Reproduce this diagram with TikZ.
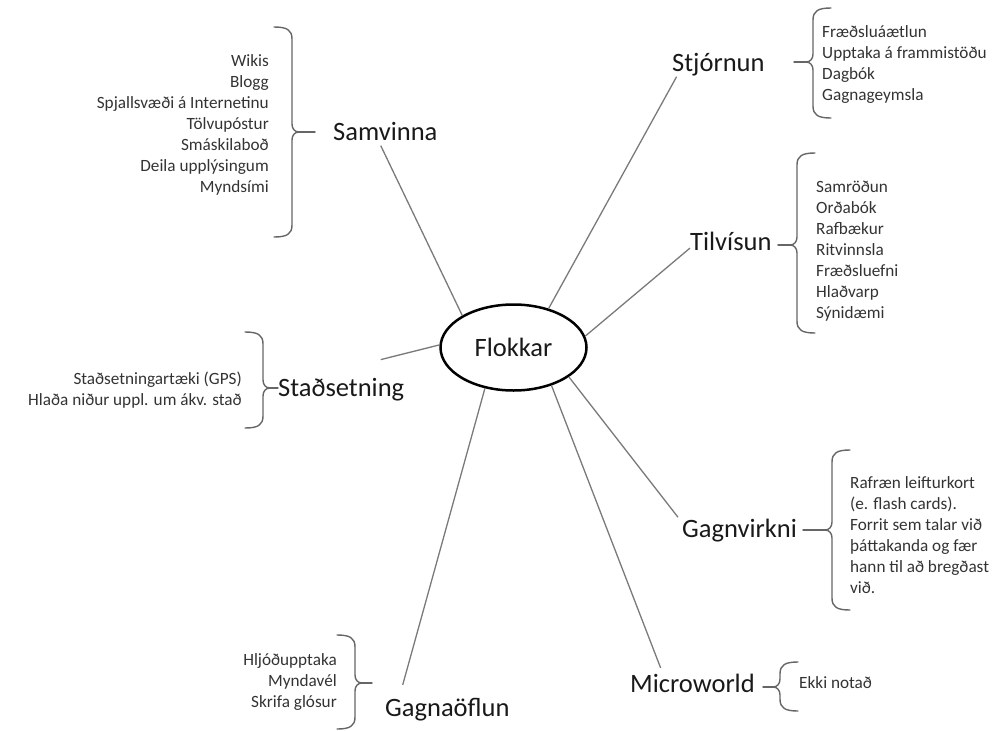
\documentclass[tikz,border=0pt]{standalone}
\usepackage{fontspec}
\setmainfont{Carlito}
\usetikzlibrary{positioning,shapes.geometric}

\definecolor{linegray}{HTML}{7A7A7A}
\definecolor{bracegray}{HTML}{666666}
\definecolor{itemgray}{HTML}{333333}

% curly bracket: bar x, top y, bottom y, tip y, tick end x, side (1 = tip right, -1 = tip left)
\newcommand{\drawcurly}[6]{%
  \draw[curly] ({#1-18*(#6)},#2) .. controls ({#1-5*(#6)},#2) and (#1,{#2+3}) .. (#1,{#2+12})
    -- (#1,{#4-8}) .. controls (#1,{#4-3}) and ({#1+3*(#6)},#4) .. ({#1+7*(#6)},#4)
    .. controls ({#1+3*(#6)},#4) and (#1,{#4+3}) .. (#1,{#4+8})
    -- (#1,{#3-12}) .. controls (#1,{#3-3}) and ({#1-5*(#6)},#3) .. ({#1-18*(#6)},#3);
  \draw[curly] ({#1+7*(#6)},#4) -- (#5,#4);}

\begin{document}
\begin{tikzpicture}[x=1pt, y=-1pt,
  every node/.style={inner sep=0pt},
  hub/.style={draw=black, ellipse, line width=2.5pt, minimum width=146pt, minimum height=86pt, font=\fontsize{26.5}{30}\selectfont, text=black!90},
  topic/.style={anchor=base west, text height=17pt, text depth=5pt, font=\fontsize{26.5}{30}\selectfont, text=black!90},
  items/.style={font=\fontsize{17.2}{21}\selectfont, text=itemgray},
  spoke/.style={draw=linegray, line width=1.3pt},
  curly/.style={draw=bracegray, line width=1.4pt, line cap=round}
]
\useasboundingbox (0,0) rectangle (999,731);

\node[hub] (hub) at (513.5,347.5) {Flokkar};

\node[topic] (samvinna) at (333,140.5) {Samvinna};
\node[topic] (stjornun) at (672,71.5) {Stjórnun};
\node[topic] (tilvisun) at (690,250.5) {Tilvísun};
\node[topic] (stadsetning) at (278,396.5) {Staðsetning};
\node[topic] (gagnvirkni) at (682,537.5) {Gagnvirkni};
\node[topic] (microworld) at (630,692) {Microworld};
\node[topic] (gagnaoflun) at (385,716) {Gagnaöflun};

\draw[spoke] (hub.148.6) -- (samvinna.-112);
\draw[spoke] (hub.48) -- (stjornun.-165);
\draw[spoke] (hub.9) -- (tilvisun.-175);
\draw[spoke, shorten >=81pt] (hub.178) -- (stadsetning.164.3);
\draw[spoke, shorten >=6.6pt] (hub.-28) -- (gagnvirkni.171);
\draw[spoke, shorten >=7.5pt] (hub.-45) -- (microworld.159);
\draw[spoke, shorten >=14.5pt] (hub.-125.7) -- (gagnaoflun.167.7);

% lists (base = last line)
\node[items, anchor=base east, align=right] (samvinna-list) at (269,192)
  {Wikis\\Blogg\\Spjallsvæði á Internetinu\\Tölvupóstur\\Smáskilaboð\\Deila upplýsingum\\Myndsími};
\node[items, anchor=base west, align=left] (stjornun-list) at (822,100)
  {Fræðsluáætlun\\Upptaka á frammistöðu\\Dagbók\\Gagnageymsla};
\node[items, anchor=base west, align=left] (tilvisun-list) at (816,318.5)
  {Samröðun\\Orðabók\\Rafbækur\\Ritvinnsla\\Fræðsluefni\\Hlaðvarp\\Sýnidæmi};
\node[items, anchor=base east, align=right] (stadsetning-list) at (242,405)
  {Staðsetningartæki (GPS)\\Hlaða niður uppl. um ákv. stað};
\node[items, anchor=base west, align=left] (gagnvirkni-list) at (850,593.5)
  {Rafræn leifturkort\\(e. flash cards).\\Forrit sem talar við\\þáttakanda og fær\\hann til að bregðast\\við.};
\node[items, anchor=base west] (microworld-list) at (799,688.5) {Ekki notað};
\node[items, anchor=base east, align=right] (gagnaoflun-list) at (337,707.5)
  {Hljóðupptaka\\Myndavél\\Skrifa glósur};

% brackets
\drawcurly{292}{27}{237}{132}{315}{1}
\drawcurly{813}{8}{118}{62}{794}{-1}
\drawcurly{797}{153}{333}{245}{778}{-1}
\drawcurly{263}{332}{428}{388}{278}{1}
\drawcurly{832}{450}{610}{530}{803}{-1}
\drawcurly{780}{662}{711}{687}{763}{-1}
\drawcurly{355}{635}{729}{683}{372}{1}
\end{tikzpicture}
\end{document}
